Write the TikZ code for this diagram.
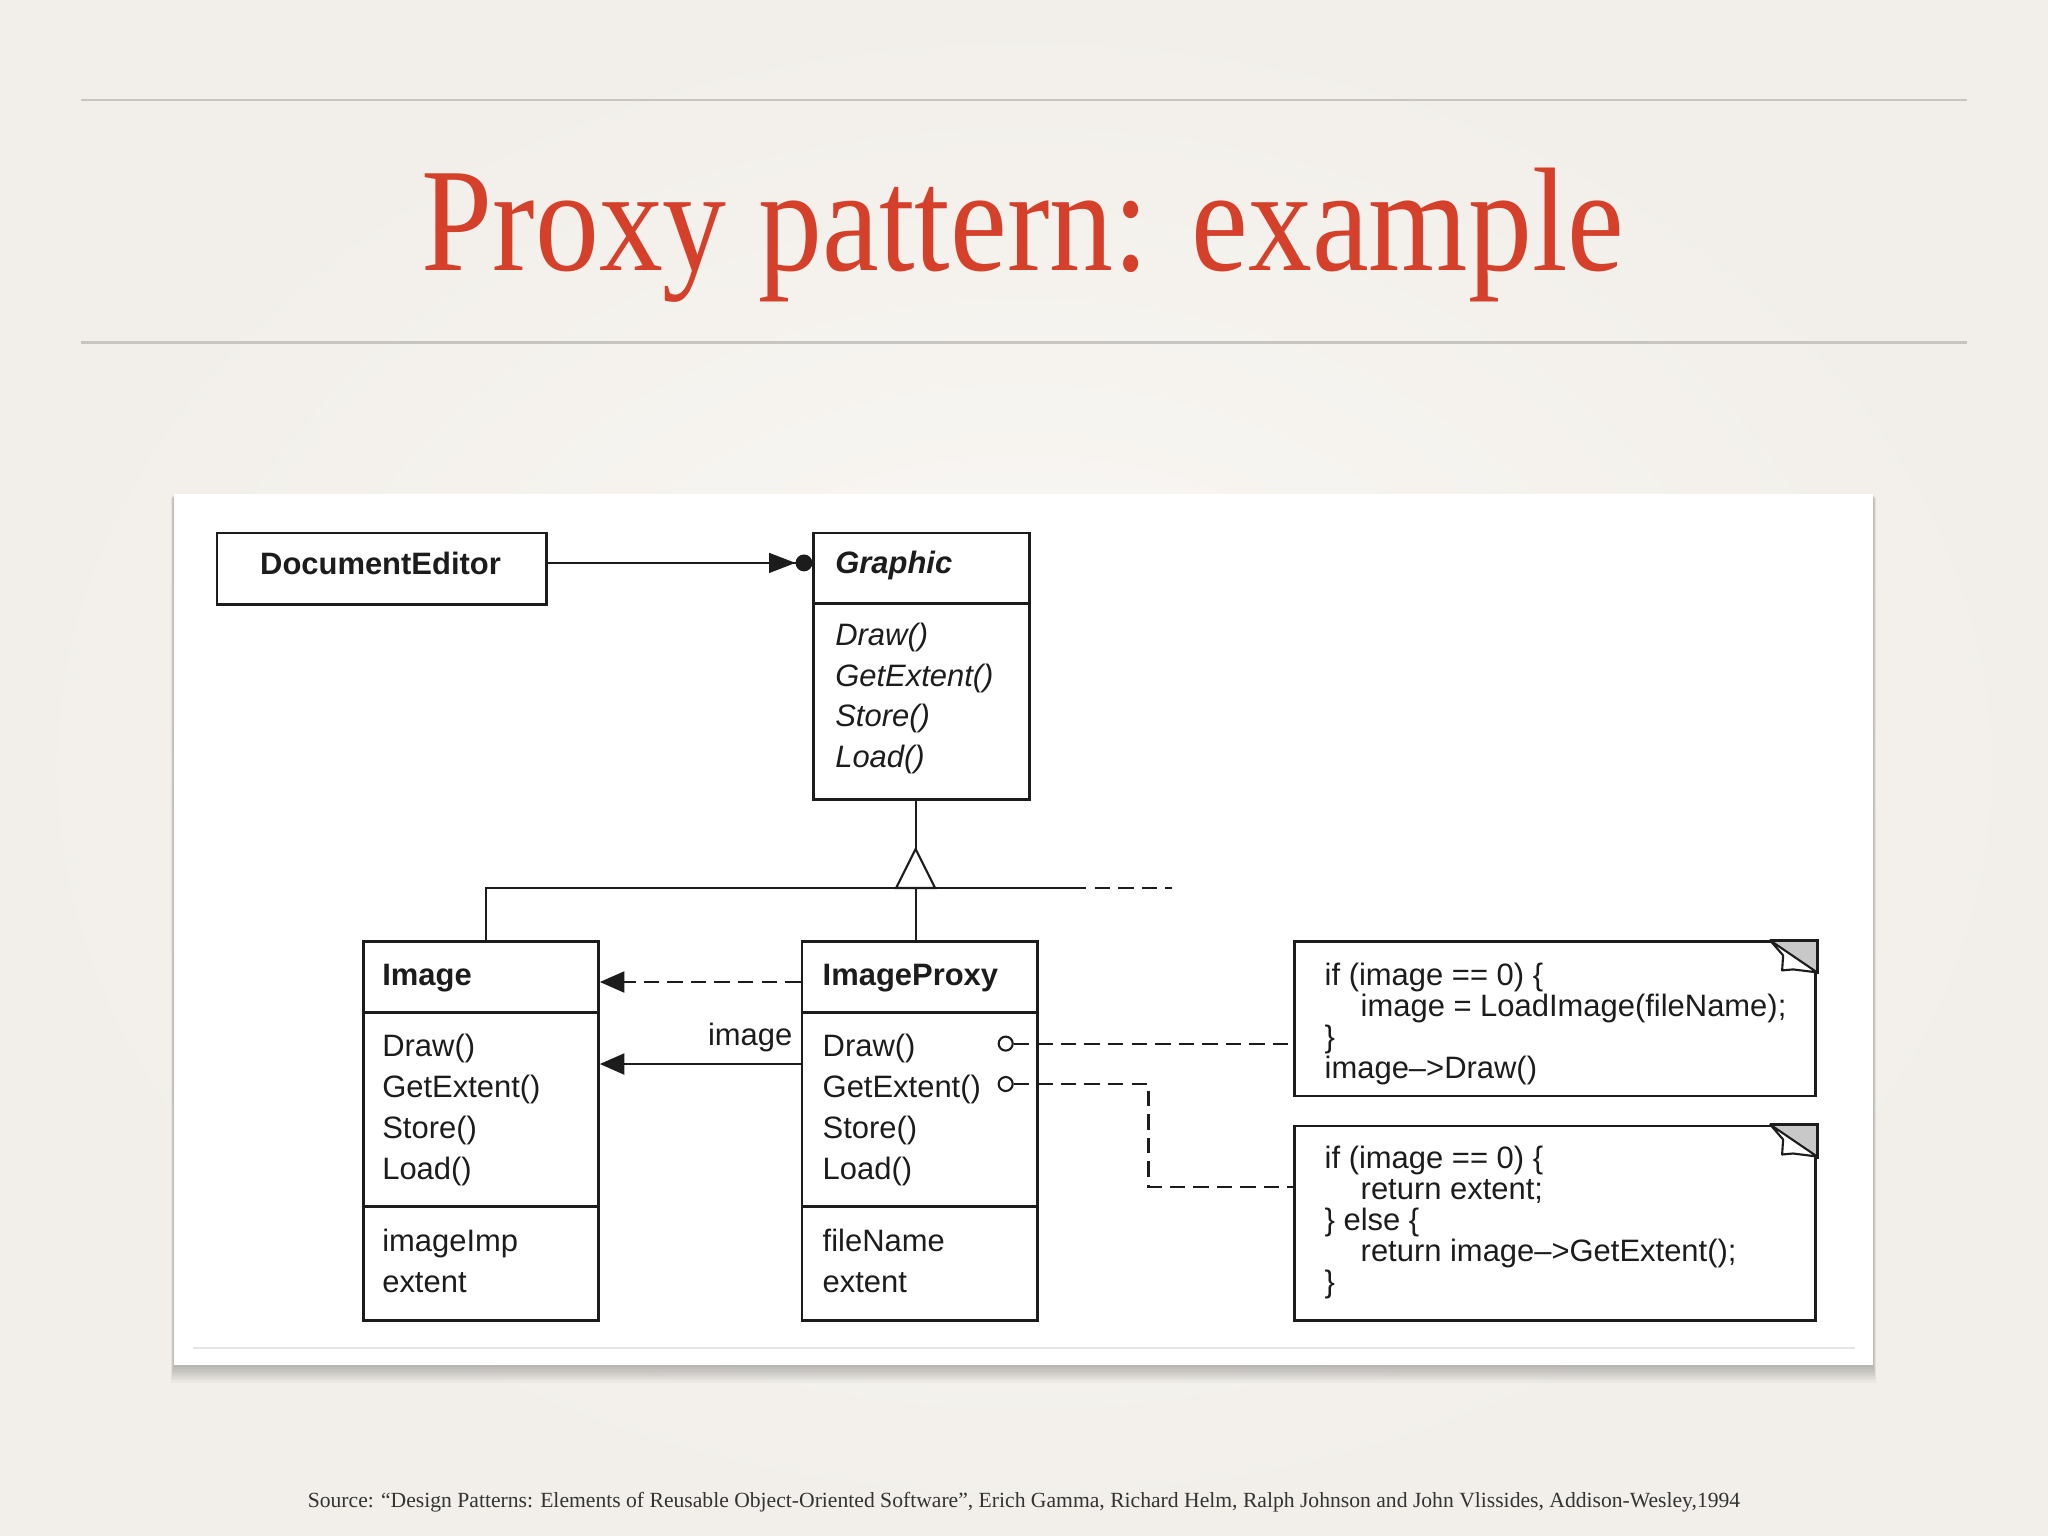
\documentclass[tikz,border=0pt]{standalone}
\usepackage{fontspec}
\setmainfont{Liberation Serif}
\newfontfamily\umlfont{Liberation Sans}
\usetikzlibrary{arrows.meta,calc,positioning}
\definecolor{slidebg}{RGB}{250,248,245}
\definecolor{slideedge}{RGB}{242,239,234}
\definecolor{rulegray}{RGB}{200,196,191}
\definecolor{titlered}{RGB}{213,64,43}
\definecolor{umlink}{RGB}{28,28,28}
\definecolor{foldgray}{RGB}{200,200,200}
\newcommand{\umlsize}{\fontsize{8.8pt}{10pt}\selectfont}
\tikzset{%
	classbox/.style   = {draw=umlink, line width=0.8pt, rectangle, inner sep=0pt, anchor=north west},
	notebox/.style    = {draw=umlink, line width=0.8pt, rectangle, inner sep=0pt, anchor=north west, minimum width=5.21cm},
	divider/.style    = {draw=umlink, line width=0.8pt},
	umltext/.style    = {inner sep=0pt, anchor=base west, text=umlink, font=\umlfont\umlsize},
	classname/.style  = {umltext, font=\umlfont\bfseries\umlsize},
	abstractop/.style = {umltext, font=\umlfont\itshape\umlsize},
	link/.style       = {draw=umlink, line width=0.6pt},
	dashline/.style   = {dash pattern=on 4.4pt off 2.3pt},
	dot/.style        = {circle, draw=umlink, line width=0.6pt, fill=white, minimum size=0.14cm, inner sep=0pt},
	titletext/.style  = {inner sep=0pt, anchor=base, text=titlered, font=\fontsize{42pt}{48pt}\selectfont},
	sourcetext/.style = {inner sep=0pt, anchor=base, text=black!80, font=\fontsize{6.15pt}{7pt}\selectfont},
}

\begin{document}
\begin{tikzpicture}[x=0.01cm,y=-0.01cm]
		\useasboundingbox (0,0) rectangle (2048,1536);
		\shade[inner color=slidebg, outer color=slideedge] (0,0) rectangle (2048,1536);
		
		\draw[rulegray, line width=0.85pt] (81,100) -- (1967,100);
		\draw[rulegray, line width=0.85pt] (81,342) -- (1967,342);
		\node[titletext] (title) at (1023,270) {\scalebox{0.865}[1]{Proxy pattern: example}};
		
		% panel with its shadow
		\foreach \s in {1,...,8} \fill[black, opacity=0.03] ({174-\s*0.4},{494+\s*0.5}) rectangle ({1873+\s*0.4},{1365+\s*2.2});
		\fill[white] (174,494) rectangle (1873,1365);
		\draw[black!10, line width=0.4pt] (193,1348) -- (1855,1348);
		
		\node[sourcetext] (source) at (1024,1507) {Source: “Design Patterns: Elements of Reusable Object-Oriented Software”, Erich Gamma, Richard Helm, Ralph Johnson and John Vlissides, Addison-Wesley,1994};
		
		% classes
		\node[classbox, minimum width=3.29cm, minimum height=0.718cm] (docedit) at (215.5,531.6) {};
		\node[classname, anchor=base] (doceditname) at ($(docedit.center)+(-1,5.8)$) {DocumentEditor};
		
		\node[classbox, minimum width=2.155cm, minimum height=2.664cm] (graphic) at (812.4,531.6) {};
		\draw[divider] ($(graphic.north west)+(0,71.8)$) -- ($(graphic.north east)+(0,71.8)$);
		\node[classname, font=\umlfont\bfseries\itshape\umlsize] (graphicname) at (834.6,573) {Graphic};
		\foreach \m [count=\i] in {Draw(),GetExtent(),Store(),Load()} \node[abstractop] (gop\i) at (834.6,{645.5+40.6*(\i-1)}) {\m};
		
		\node[classbox, minimum width=2.351cm, minimum height=3.788cm] (image) at (361.8,940.4) {};
		\draw[divider] ($(image.north west)+(0,71.8)$) -- ($(image.north east)+(0,71.8)$);
		\draw[divider] ($(image.north west)+(0,266.4)$) -- ($(image.north east)+(0,266.4)$);
		\node[classname] (imagename) at (381.6,985) {Image};
		\foreach \m [count=\i] in {Draw(),GetExtent(),Store(),Load()} \node[umltext] (iop\i) at (381.6,{1056.6+41.1*(\i-1)}) {\m};
		\foreach \a [count=\i] in {imageImp,extent} \node[umltext] (iatt\i) at (381.6,{1251.5+40.5*(\i-1)}) {\a};
		
		\node[classbox, minimum width=2.351cm, minimum height=3.788cm] (proxy) at (800.6,940.4) {};
		\draw[divider] ($(proxy.north west)+(0,71.8)$) -- ($(proxy.north east)+(0,71.8)$);
		\draw[divider] ($(proxy.north west)+(0,266.4)$) -- ($(proxy.north east)+(0,266.4)$);
		\node[classname] (proxyname) at (822,985) {ImageProxy};
		\foreach \m [count=\i] in {Draw(),GetExtent(),Store(),Load()} \node[umltext] (pop\i) at (822,{1056.6+41.1*(\i-1)}) {\m};
		\foreach \a [count=\i] in {fileName,extent} \node[umltext] (patt\i) at (822,{1251.5+40.5*(\i-1)}) {\a};
		
		% notes
		\node[notebox, minimum height=1.541cm] (note1) at (1293,940.4) {};
		\node[notebox, minimum height=1.947cm] (note2) at (1293,1124.5) {};
		\foreach \n in {note1,note2} {
			\fill[foldgray] ($(\n.north east)+(-47,0)$) -- (\n.north east) -- ($(\n.north east)+(0,32)$) -- cycle;
			\draw[link, fill=white, line join=round] ($(\n.north east)+(-47,0)$) -- ($(\n.north east)+(-34,15)$) -- ($(\n.north east)+(-35,30)$) -- ($(\n.north east)+(-24,29)$) -- ($(\n.north east)+(0,32)$) -- cycle;
			\draw[divider] ($(\n.north east)+(-47,0)$) -- (\n.north east) -- ($(\n.north east)+(0,34)$);
		}
		\foreach \ind/\txt [count=\i] in {0/{if (image == 0) \{},1/{image = LoadImage(fileName);},0/\},0/{image–>Draw()}}
			\node[umltext] (drawcode\i) at ({1324+36*\ind},{985+31*(\i-1)}) {\txt};
		\foreach \ind/\txt [count=\i] in {0/{if (image == 0) \{},1/{return extent;},0/{\} else \{},1/{return image–>GetExtent();},0/\}}
			\node[umltext] (extcode\i) at ({1324+36*\ind},{1168+31*(\i-1)}) {\txt};
		
		% connectors
		\draw[link, -{Triangle[length=7.5pt,width=5.6pt] Circle[length=4.8pt]}] ($(docedit.east)+(0,-6)$) -- ($(graphic.west |- docedit.east)+(0,-6)$);
		
		\coordinate (gen) at (915.6,888);
		\coordinate (genend) at (1071,888);
		\coordinate (genmore) at (1172,888);
		\draw[link] (graphic.south -| gen) -- ($(gen)+(0,-39)$);
		\draw[link] ($(gen)+(-19.5,0)$) -- ($(gen)+(0,-39)$) -- ($(gen)+(19.5,0)$) -- cycle;
		\draw[link] ($(image.north)+(5,0)$) |- (genend);
		\draw[link, dashline] (genend) -- (genmore);
		\draw[link] (proxy.north -| gen) -- (gen);
		
		\draw[link, dashline, -{Triangle[length=7pt,width=6pt]}] ($(proxy.north west)+(0,41.6)$) -- ($(image.north east)+(0,41.6)$);
		\draw[link, -{Triangle[length=7pt,width=6pt]}] ($(proxy.north west)+(0,123.6)$) -- ($(image.north east)+(0,123.6)$);
		\node[umltext, anchor=base east] (reflabel) at ($(proxy.north west)+(-7.6,104.6)$) {image};
		
		\node[dot] (drawdot) at (1005.7,1043.6) {};
		\node[dot] (extdot) at (1005.7,1084) {};
		\coordinate (extbend) at (1148.5,1084);
		\draw[link, dashline] (drawdot.east) -- (drawdot.east -| note1.west);
		\draw[link, dashline] (extdot.east) -- (extbend) |- ($(note2.north west)+(0,62.8)$);
	\end{tikzpicture}
\end{document}
